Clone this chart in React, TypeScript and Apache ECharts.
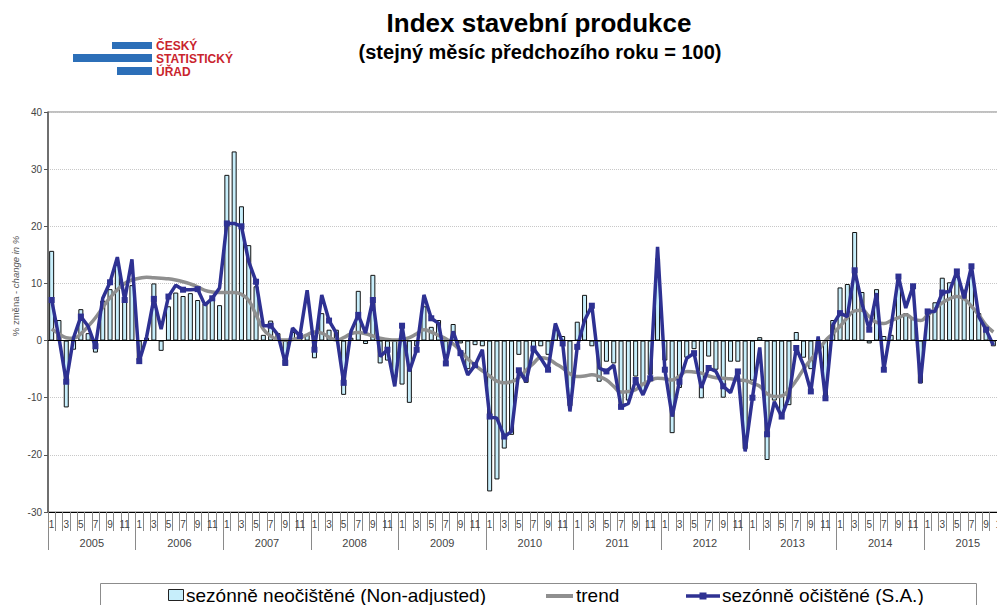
import React, { useEffect, useRef } from 'react';
import * as echarts from 'echarts';

const years = ['2005', '2006', '2007', '2008', '2009', '2010', '2011', '2012', '2013', '2014', '2015'];
const monthNumbers = ['1', '2', '3', '4', '5', '6', '7', '8', '9', '10', '11', '12'];

const seriesNames = ['sezónně neočištěné (Non-adjusted)', 'trend', 'sezónně očištěné (S.A.)'];

// Jan 2005 – Oct 2015
const nonAdjusted = [
  15.7, 3.6, -11.7, -1.6, 5.5, 1.3, -2.1, 7.0, 9.0, 13.5, 7.5, 9.7,
  -3.5, 0.5, 10.0, -1.8, 6.0, 8.4, 7.8, 8.3, 7.1, 6.5, 7.2, 6.2,
  29.0, 33.1, 23.5, 16.7, 9.5, 1.0, 3.5, 1.3, -4.4, 1.5, 0.8, 1.0,
  -3.1, 4.8, 1.9, 1.9, -9.5, 0.5, 8.7, -0.6, 11.5, -4.0, -3.5, -6.5,
  -7.7, -10.9, -1.0, 6.0, 2.4, 3.6, -3.0, 2.9, -0.5, -5.0, -0.8, -1.0,
  -26.4, -24.3, -18.9, -16.5, -2.5, -7.4, -1.5, -1.0, -2.5, 2.0, 0.8, -11.5,
  3.3, 8.0, -1.0, -7.2, -3.7, -4.0, -11.8, -10.5, -6.3, -9.0, -6.0, 14.4,
  -3.5, -16.2, -8.3, -3.0, -1.5, -10.1, -2.8, -5.1, -10.0, -3.7, -3.7, -19.0,
  -7.0, 0.6, -20.9, -10.5, -13.6, -11.3, 1.5, -3.0, -5.0, -1.5, -10.3, 3.6,
  9.3, 9.9, 19.0, 8.5, -0.5, 9.0, 0.8, 1.0, 10.6, 4.8, 3.9, -7.5,
  5.3, 6.7, 11.0, 10.2, 11.8, 8.9, 11.8, 4.8, 1.9, -1.0,
];

const trend = [
  2.0, 1.2, 0.5, 0.4, 1.2, 2.5, 4.0, 5.8, 7.5, 8.9, 10.0, 10.6,
  10.9, 11.1, 11.0, 10.9, 10.8, 10.6, 10.3, 9.9, 9.4, 8.8, 8.5, 8.4,
  8.4, 8.4, 8.1, 7.0, 4.5, 2.0, 0.8, 0.2, 0.1, 0.2, 0.5, 1.0,
  1.5, 1.3, 0.6, 0.1, 0.5, 1.2, 1.4, 1.2, 0.8, 0.4, 0.2, 0.1,
  0.2, 0.5, 1.2, 1.9, 1.5, 0.9, 0.3, -0.6, -1.8, -3.2, -4.3, -5.3,
  -6.2, -7.1, -7.4, -7.2, -6.5, -5.2, -4.0, -3.0, -3.2, -4.0, -4.8, -5.8,
  -6.3, -6.2, -6.0, -6.3, -6.9, -8.0, -9.0, -8.9, -8.6, -7.6, -7.0, -6.6,
  -6.7, -6.9, -6.2, -5.4, -5.5, -5.7, -6.2, -6.5, -6.6, -6.7, -6.9, -7.0,
  -7.5, -8.0, -9.3, -9.8, -9.7, -8.6, -7.0, -5.0, -3.3, -1.8, 0.0, 1.2,
  2.5, 4.0, 5.2, 5.3, 4.2, 3.2, 3.0, 3.5, 4.0, 4.5, 3.8, 3.5,
  4.5, 5.5, 6.6, 7.3, 7.7, 7.3, 6.0, 4.5, 2.7, 1.5,
];

const seasonallyAdjusted = [
  7.1, 0.5, -7.2, 0.5, 4.2, 2.5, -1.0, 7.4, 10.2, 14.6, 7.1, 14.2,
  -3.6, 0.6, 7.3, 2.0, 7.7, 9.7, 8.9, 8.9, 9.0, 6.2, 7.4, 9.2,
  20.5, 20.5, 20.0, 13.8, 10.3, 2.6, 2.6, 1.0, -3.9, 2.2, 0.8, 8.8,
  -1.6, 8.0, 3.5, 1.3, -7.4, 1.6, 4.5, 1.3, 7.1, -2.8, -1.6, -8.0,
  2.6, -5.4, -1.6, 8.0, 3.9, 3.0, -4.0, 1.6, -2.2, -6.0, -4.3, -1.6,
  -13.3, -13.6, -16.8, -15.9, -5.2, -7.2, -1.4, -3.1, -5.1, 3.0, -0.5, -12.4,
  -1.1, 3.5, 6.1, -4.8, -5.4, -4.3, -11.6, -11.0, -6.9, -9.5, -6.6, 16.4,
  -5.1, -13.3, -7.2, -3.1, -2.2, -8.3, -4.8, -5.4, -8.0, -9.1, -5.4, -19.4,
  -10.0, -1.2, -16.4, -10.7, -13.3, -9.8, -1.3, -4.3, -8.9, 0.7, -10.1, 2.7,
  4.8, 4.2, 12.3, 6.5, 1.9, 8.3, -5.1, 2.5, 11.2, 5.7, 9.5, -7.5,
  5.1, 5.1, 8.4, 8.6, 12.1, 7.4, 13.0, 4.2, 1.9, -0.8,
];

const yMin = -30;
const yMax = 40;
const yStep = 10;

const SANS = 'Liberation Sans, Arial, sans-serif';
const BAR_FILL = '#c7eefb';
const TREND_COLOR = '#8f8f8f';
const SA_COLOR = '#2e3192';

export default function App() {
  const ref = useRef<HTMLDivElement>(null);

  useEffect(() => {
    if (!ref.current) return;
    const chart = echarts.init(ref.current, null, { renderer: 'svg' });
    const categories = years.flatMap((y) => monthNumbers.map((m) => `${m}/${y}`));
    const pad = (arr: number[]) => categories.map((_, i) => (i < arr.length ? arr[i] : null));

    const legendText = (x: number, text: string) => ({
      type: 'text',
      x,
      y: 595,
      style: { text, fill: '#000', fontSize: 19, fontFamily: SANS, textVerticalAlign: 'middle' },
      z: 10,
    });

    const option: any = {
      animation: false,
      backgroundColor: '#fff',
      textStyle: { fontFamily: SANS },
      grid: {
        left: 48,
        top: 112,
        width: 963.6,
        height: 400,
        show: true,
        borderColor: '#808080',
        borderWidth: 1,
        backgroundColor: 'transparent',
      },
      xAxis: [
        {
          type: 'category',
          data: categories,
          position: 'bottom',
          boundaryGap: true,
          axisLine: { show: true, onZero: false, lineStyle: { color: '#000', width: 1 } },
          axisTick: { show: true, interval: 0, length: 19, lineStyle: { color: '#8a8a8a' } },
          axisLabel: {
            interval: (i: number) => i % 2 === 0,
            formatter: (v: string) => v.split('/')[0],
            fontSize: 10,
            color: '#444',
            margin: 7,
          },
          splitLine: { show: false },
        },
        {
          type: 'category',
          data: years,
          position: 'bottom',
          boundaryGap: true,
          axisLine: { show: false, onZero: false },
          axisTick: { show: true, interval: 0, length: 38, lineStyle: { color: '#8a8a8a' } },
          axisLabel: { interval: 0, fontSize: 11, color: '#444', margin: 25 },
          splitLine: { show: false },
        },
      ],
      yAxis: {
        type: 'value',
        min: yMin,
        max: yMax,
        interval: yStep,
        axisLine: { show: true, lineStyle: { color: '#555', width: 1.5 } },
        axisTick: { show: true, length: 4, lineStyle: { color: '#555' } },
        axisLabel: { fontSize: 10, color: '#444', margin: 6 },
        splitLine: { show: true, lineStyle: { type: 'dotted', color: '#c8c8c8', width: 1 } },
      },
      legend: { show: false, data: seriesNames },
      graphic: [
        // legend box and items
        { type: 'rect', shape: { x: 100.5, y: 583.5, width: 876, height: 40 }, style: { fill: '#fff', stroke: '#8c8c8c', lineWidth: 1 }, z: 5 },
        { type: 'rect', shape: { x: 168.5, y: 589.5, width: 15, height: 11 }, style: { fill: BAR_FILL, stroke: '#222', lineWidth: 1 }, z: 10 },
        legendText(186, seriesNames[0]),
        { type: 'line', shape: { x1: 546, y1: 596, x2: 573, y2: 596 }, style: { stroke: TREND_COLOR, lineWidth: 4 }, z: 10 },
        legendText(576, seriesNames[1]),
        { type: 'line', shape: { x1: 686, y1: 596, x2: 720, y2: 596 }, style: { stroke: SA_COLOR, lineWidth: 3.5 }, z: 10 },
        { type: 'rect', shape: { x: 699.5, y: 592.5, width: 7, height: 7 }, style: { fill: SA_COLOR }, z: 10 },
        legendText(722, seriesNames[2]),
        // logo
        { type: 'rect', shape: { x: 112, y: 42, width: 40, height: 7 }, style: { fill: '#2c6fb8' } },
        { type: 'rect', shape: { x: 73, y: 54, width: 79, height: 8 }, style: { fill: '#2c6fb8' } },
        { type: 'rect', shape: { x: 117, y: 67, width: 35, height: 8 }, style: { fill: '#2c6fb8' } },
        { type: 'text', x: 156, y: 45.5, style: { text: 'ČESKÝ', fill: '#c9242d', fontSize: 12, fontWeight: 'bold', fontFamily: SANS, textVerticalAlign: 'middle' } },
        { type: 'text', x: 156, y: 58.5, style: { text: 'STATISTICKÝ', fill: '#c9242d', fontSize: 12, fontWeight: 'bold', fontFamily: SANS, textVerticalAlign: 'middle' } },
        { type: 'text', x: 156, y: 71.5, style: { text: 'ÚŘAD', fill: '#c9242d', fontSize: 12, fontWeight: 'bold', fontFamily: SANS, textVerticalAlign: 'middle' } },
        // titles
        { type: 'text', x: 539, y: 23, style: { text: 'Index stavební produkce', fill: '#000', fontSize: 26, fontWeight: 'bold', fontFamily: SANS, textAlign: 'center', textVerticalAlign: 'middle' } },
        { type: 'text', x: 540, y: 52, style: { text: '(stejný měsíc předchozího roku = 100)', fill: '#000', fontSize: 20, fontWeight: 'bold', fontFamily: SANS, textAlign: 'center', textVerticalAlign: 'middle' } },
        // y-axis name
        {
          type: 'text',
          x: 15,
          y: 286,
          rotation: Math.PI / 2,
          style: {
            text: '{a|% změna - }{b|change in %}',
            fill: '#555',
            fontSize: 9.5,
            fontFamily: SANS,
            textAlign: 'center',
            textVerticalAlign: 'middle',
            rich: {
              a: { fontSize: 9.5, fill: '#555', fontFamily: SANS },
              b: { fontSize: 9.5, fill: '#555', fontStyle: 'italic', fontFamily: SANS },
            },
          },
        },
      ],
      series: [
        {
          name: seriesNames[0],
          type: 'bar',
          xAxisIndex: 0,
          data: pad(nonAdjusted),
          barWidth: 5,
          itemStyle: { color: BAR_FILL, borderColor: '#111', borderWidth: 1 },
          z: 2,
          markLine: {
            silent: true,
            symbol: 'none',
            label: { show: false },
            lineStyle: { color: '#000', width: 1.2, type: 'solid' },
            data: [{ yAxis: 0 }],
          },
        },
        {
          name: seriesNames[1],
          type: 'line',
          xAxisIndex: 0,
          data: pad(trend),
          smooth: true,
          showSymbol: false,
          symbol: 'none',
          lineStyle: { color: TREND_COLOR, width: 3.5 },
          itemStyle: { color: TREND_COLOR },
          z: 3,
        },
        {
          name: seriesNames[2],
          type: 'line',
          xAxisIndex: 0,
          data: pad(seasonallyAdjusted),
          symbol: 'rect',
          symbolSize: 6,
          showSymbol: true,
          lineStyle: { color: SA_COLOR, width: 3.5 },
          itemStyle: { color: SA_COLOR },
          z: 4,
        },
      ],
    };

    chart.setOption(option);
    return () => chart.dispose();
  }, []);

  return (
    <div style={{ position: 'fixed', left: 0, top: 0, width: 997, height: 605, overflow: 'hidden', background: '#fff' }}>
      <div ref={ref} style={{ width: 1020, height: 605 }} />
    </div>
  );
}
